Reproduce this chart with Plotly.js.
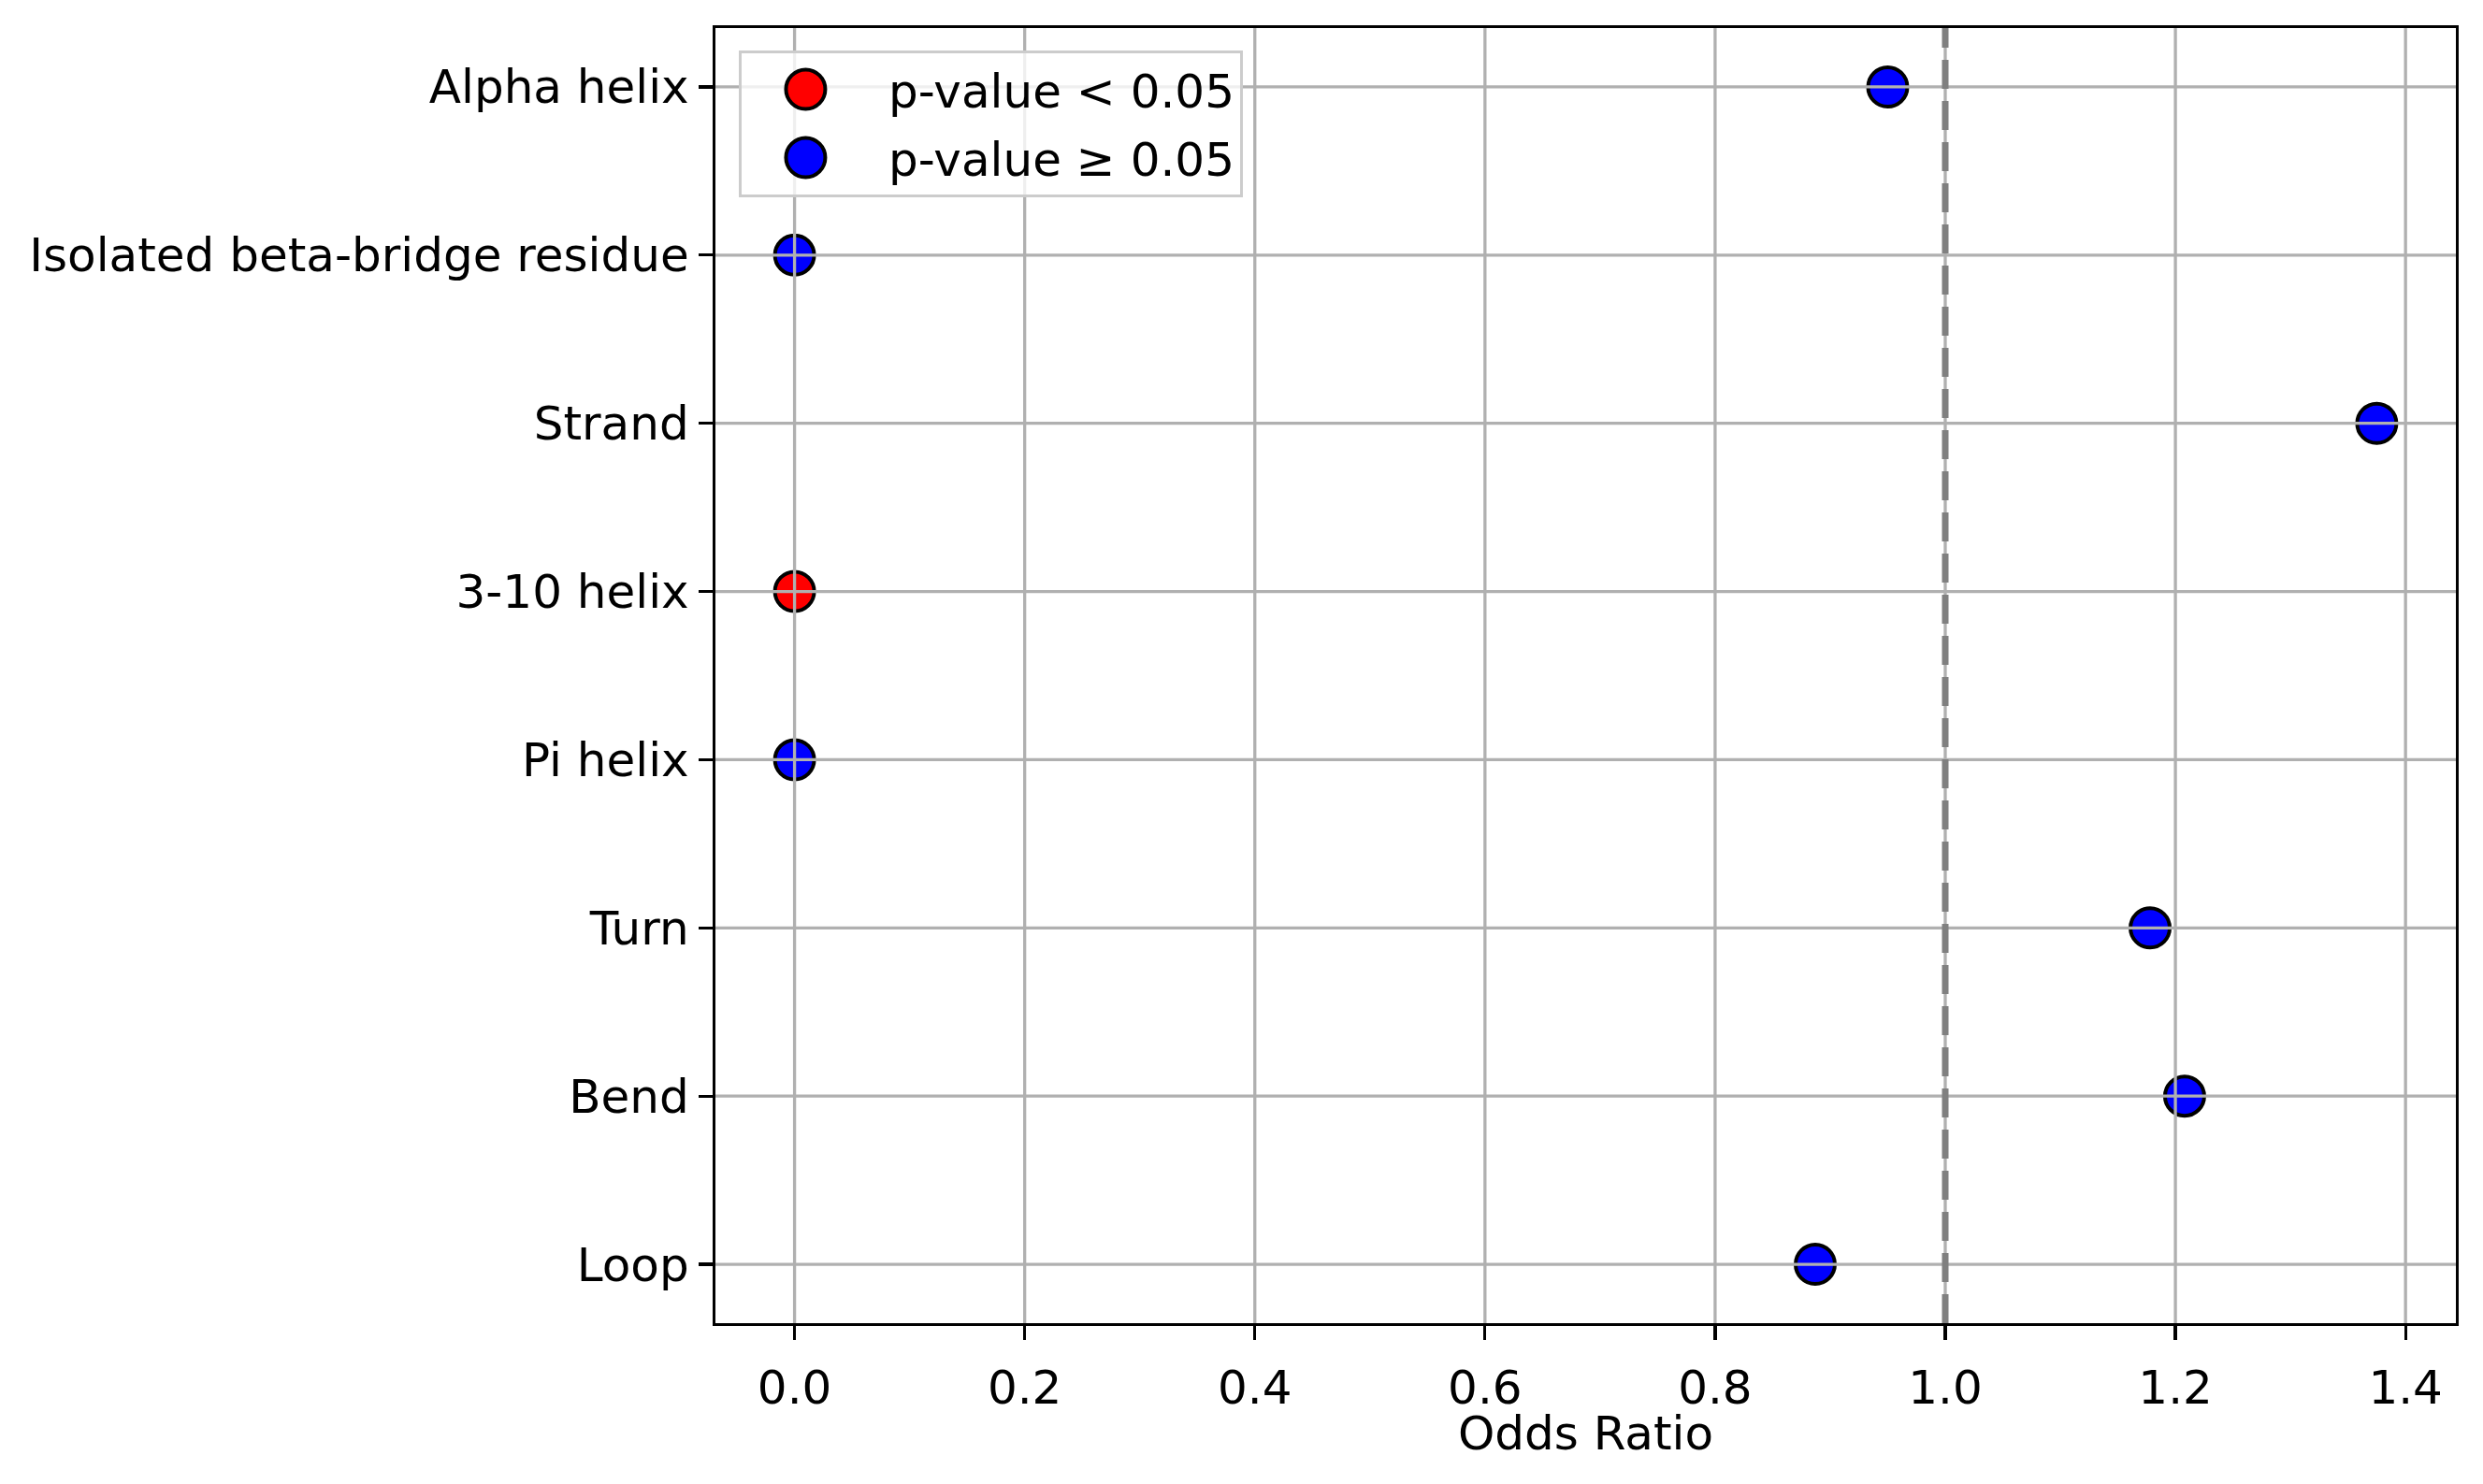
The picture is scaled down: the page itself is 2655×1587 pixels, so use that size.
<!DOCTYPE html>
<html>
<head>
<meta charset="utf-8">
<script src="https://cdn.plot.ly/plotly-3.0.1.min.js"></script>
<style>
  html, body { margin: 0; padding: 0; background: #fff; }
  #chart { width: 2655px; height: 1587px; }
</style>
</head>
<body>
<div id="chart"></div>
<script>
// secondary structure categories, top to bottom
const categories = ['Alpha helix', 'Isolated beta-bridge residue', 'Strand', '3-10 helix',
                    'Pi helix', 'Turn', 'Bend', 'Loop'];
const oddsRatios = [0.95, 0, 1.375, 0, 0, 1.178, 1.208, 0.887];
const significant = [false, false, false, true, false, false, false, false];
const xTicks = [0, 0.2, 0.4, 0.6, 0.8, 1.0, 1.2, 1.4];
const refLine = 1.0;

// plotly category axis draws first item at the bottom
const catOrder = categories.slice().reverse();

function pick(flag) {
    let xs = [], ys = [];
    categories.forEach((c, i) => {
        if (significant[i] === flag) {
            xs.push(oddsRatios[i]);
            ys.push(c);
        }
    });
    return {x: xs, y: ys};
}

const sig = pick(true);
const nonSig = pick(false);

const markerLine = {color: '#000000', width: 4};

let traces = [
    {
        x: sig.x, y: sig.y,
        type: 'scatter', mode: 'markers',
        name: 'p-value < 0.05',
        legendgroup: 'a',
        marker: {color: '#ff0000', size: 42, line: markerLine}
    },
    {
        x: nonSig.x, y: nonSig.y,
        type: 'scatter', mode: 'markers',
        name: 'p-value \u2265 0.05',
        legendgroup: 'b',
        marker: {color: '#0000ff', size: 42, line: markerLine}
    }
];

// grid is drawn on top of the markers, like the original
let shapes = [];
const gridStyle = {color: '#b0b0b0', width: 3.3};
xTicks.forEach((t) => {
    shapes.push({type: 'line', layer: 'above', xref: 'x', yref: 'paper',
                 x0: t, x1: t, y0: 0, y1: 1, line: gridStyle});
});
catOrder.forEach((c, i) => {
    shapes.push({type: 'line', layer: 'above', xref: 'paper', yref: 'y',
                 x0: 0, x1: 1, y0: i, y1: i, line: gridStyle});
});
shapes.push({type: 'line', layer: 'above', xref: 'x', yref: 'paper',
             x0: refLine, x1: refLine, y0: 0, y1: 1,
             line: {color: '#808080', width: 7, dash: '31px,13px'}});

const fontFamily = 'DejaVu Sans, sans-serif';

let layout = {
    width: 2655,
    height: 1587,
    margin: {l: 765, r: 29, t: 30, b: 172},
    paper_bgcolor: '#ffffff',
    plot_bgcolor: '#ffffff',
    font: {family: fontFamily, size: 50, color: '#000000'},
    showlegend: true,
    legend: {
        x: 0.0134, y: 0.983, xanchor: 'left', yanchor: 'top',
        bgcolor: 'rgba(255,255,255,0.8)',
        bordercolor: '#cccccc',
        borderwidth: 3,
        itemwidth: 147,
        traceorder: 'grouped',
        tracegroupgap: 5,
        font: {family: fontFamily, size: 50, color: '#000000'}
    },
    xaxis: {
        range: [-0.06875, 1.44375],
        tickmode: 'array',
        tickvals: xTicks,
        tickformat: '.1f',
        showgrid: false,
        zeroline: false,
        showline: true, mirror: true,
        linecolor: '#000000', linewidth: 3.3,
        ticks: 'outside', ticklen: 15, tickwidth: 3.3, tickcolor: '#000000',
        ticklabelstandoff: 8,
        title: {text: 'Odds Ratio', standoff: 0, font: {family: fontFamily, size: 50}}
    },
    yaxis: {
        type: 'category',
        categoryorder: 'array',
        categoryarray: catOrder,
        range: [-0.35, 7.35],
        showgrid: false,
        zeroline: false,
        showline: true, mirror: true,
        linecolor: '#000000', linewidth: 3.3,
        ticks: 'outside', ticklen: 15, tickwidth: 3.3, tickcolor: '#000000',
        ticklabelstandoff: 0
    },
    shapes: shapes
};

Plotly.newPlot('chart', traces, layout, {staticPlot: true}).then(() => {
    // legend symbols are capped in size by plotly, enlarge them to match the plot markers
    document.querySelectorAll('.legend .legendpoints path.scatterpts').forEach((p) => {
        p.setAttribute('d', 'M11,0A21,21 0 1,1 -10,-21A21,21 0 0,1 11,0Z');
        p.style.strokeWidth = '4px';
    });
    // nudge the x title a little closer to the tick labels
    let xt = document.querySelector('.g-xtitle text');
    if (xt) {
        let y = parseFloat(xt.getAttribute('y'));
        if (!isNaN(y)) xt.setAttribute('y', y - 9);
    }
});
</script>
</body>
</html>
